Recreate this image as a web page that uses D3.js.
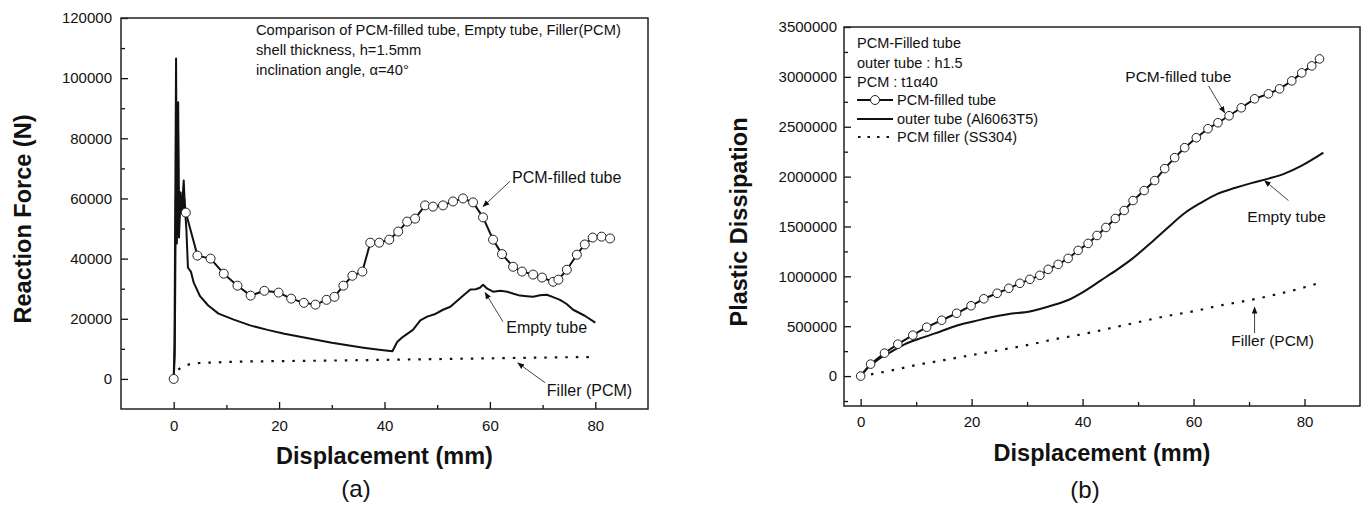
<!DOCTYPE html>
<html><head><meta charset="utf-8">
<script src="https://cdn.jsdelivr.net/npm/d3@7"></script>
<style>
body{margin:0;background:#fff}
svg{display:block}
text{font-family:"Liberation Sans",Arial,sans-serif;fill:#111}
</style>
</head><body>
<svg id="c" width="1365" height="507"></svg>
<script>
// ---------- (a) Reaction force ----------
const aPcmSpikeX = [0, 0.2, 0.4, 0.6, 0.8, 1.0, 1.2, 1.5, 1.9, 2.1, 2.3];
const aPcmSpikeY = [0, 8000, 60000, 45000, 86000, 50000, 62000, 55000, 66000, 58000, 55300];
const aPcmX = [2.3, 4.5, 7.0, 9.5, 12.1, 14.6, 17.2, 19.9, 22.3, 24.7, 26.9, 29.0, 30.5, 32.2, 33.9, 35.8, 37.3, 39.0, 40.9, 42.6, 44.3, 45.8, 47.7, 49.2, 51.1, 53.0, 54.9, 56.8, 58.7, 60.6, 62.3, 64.4, 66.1, 68.2, 69.9, 72.0, 73.0, 74.6, 76.5, 78.0, 79.5, 81.2, 82.8];
const aPcmY = [55300, 41000, 40000, 35000, 31000, 27700, 29300, 28700, 26700, 25300, 24700, 26300, 27300, 31000, 34300, 35700, 45300, 45300, 46300, 49000, 52300, 53300, 57700, 57300, 57700, 59000, 60000, 58700, 53700, 46300, 41500, 37300, 35700, 34700, 33700, 32300, 33000, 36300, 41300, 44700, 47000, 47300, 46700];
const aEmptyX = [0, 0.15, 0.45, 0.6, 0.85, 1.0, 1.3, 1.7, 2.0, 2.4, 2.7, 3.0, 3.3, 3.8, 5.0, 6.5, 8.5, 11.4, 14.5, 17.8, 21, 24, 27, 30, 33, 36, 39, 41.5, 42.4, 43.5, 45.4, 46.8, 48.1, 49.5, 51.1, 52.5, 53.8, 55.0, 56.3, 57.3, 58.1, 58.7, 59.5, 60.6, 62.0, 63.3, 64.5, 65.7, 67.0, 68.2, 69.5, 70.8, 72.0, 73.3, 74.5, 75.8, 78.0, 80.0];
const aEmptyY = [0, 12000, 106500, 48000, 92000, 47000, 62000, 55000, 60000, 50000, 37000, 36300, 35500, 32000, 27500, 24500, 21700, 19700, 17800, 16300, 15000, 14000, 13000, 12000, 11200, 10400, 9700, 9200, 12300, 14000, 16300, 19500, 20700, 21500, 23000, 24000, 26000, 27800, 29700, 29800, 30300, 31300, 30000, 29000, 29300, 29000, 28300, 27700, 27500, 27300, 27800, 28000, 27200, 26300, 25000, 23000, 21000, 18700];
const aFillerX = [0, 0.3, 0.7, 1.3, 2, 3.2, 5, 8, 11.4, 16, 22, 29.7, 36, 42, 50, 58, 66, 74, 80];
const aFillerY = [0, 1500, 2800, 3700, 4300, 5000, 5300, 5500, 5700, 5850, 5950, 6100, 6250, 6400, 6600, 6800, 7000, 7200, 7300];
const aXTicks = [0, 20, 40, 60, 80];
const aXMinor = [10, 30, 50, 70];
const aYTicks = [0, 20000, 40000, 60000, 80000, 100000, 120000];
const aYMinor = [10000, 30000, 50000, 70000, 90000, 110000];
const aHeader = ["Comparison of PCM-filled tube, Empty tube, Filler(PCM)", "shell thickness, h=1.5mm", "inclination angle, \u03B1=40\u00B0"];
const aLabels = ["PCM-filled tube", "Empty tube", "Filler (PCM)"];
const aLabelX = [64.2, 63.1, 70.8];
const aLabelY = [65000, 15200, -5700];
const aArrowFromX = [63.8, 62.5, 70.5], aArrowFromY = [65700, 19000, -1300];
const aArrowToX = [58.7, 59.1, 65.3], aArrowToY = [57300, 28700, 5300];

// ---------- (b) Plastic dissipation ----------
const bPcmX = [0, 1.8, 4.3, 6.7, 9.4, 11.9, 14.6, 17.3, 19.9, 22.2, 24.6, 26.7, 28.7, 30.5, 32.3, 33.8, 35.6, 37.4, 39.2, 41.0, 42.6, 44.2, 45.9, 47.5, 49.1, 51.1, 53.0, 54.8, 56.6, 58.4, 60.5, 62.6, 64.4, 66.4, 68.6, 71.0, 73.5, 75.5, 77.7, 79.5, 81.3, 82.7];
const bPcmY = [0, 120000, 230000, 320000, 410000, 490000, 560000, 630000, 705000, 775000, 830000, 880000, 930000, 970000, 1010000, 1070000, 1120000, 1180000, 1260000, 1330000, 1410000, 1490000, 1580000, 1660000, 1760000, 1860000, 1960000, 2080000, 2190000, 2290000, 2390000, 2480000, 2540000, 2610000, 2690000, 2780000, 2830000, 2880000, 2960000, 3040000, 3110000, 3180000];
const bEmptyX = [0, 1, 2.3, 3.5, 5.4, 8, 11.4, 14.5, 17.5, 20.5, 23.5, 26.5, 30.7, 34, 37.3, 40.3, 43.3, 46.3, 48.8, 52.4, 55.4, 58.3, 61.4, 64.4, 67.4, 70.4, 73.5, 76.4, 79.5, 83.4];
const bEmptyY = [0, 70000, 130000, 180000, 240000, 320000, 390000, 450000, 510000, 550000, 590000, 620000, 650000, 700000, 760000, 850000, 960000, 1070000, 1170000, 1340000, 1490000, 1630000, 1740000, 1830000, 1885000, 1935000, 1980000, 2030000, 2110000, 2240000];
const bFillerX = [0, 5, 10, 15, 20, 25, 30, 35, 40, 45, 50, 55, 60, 65, 70, 75, 80, 83];
const bFillerY = [0, 50000, 110000, 160000, 210000, 260000, 310000, 370000, 420000, 480000, 540000, 600000, 650000, 710000, 760000, 820000, 890000, 940000];
const bXTicks = [0, 20, 40, 60, 80];
const bXMinor = [10, 30, 50, 70];
const bYTicks = [0, 500000, 1000000, 1500000, 2000000, 2500000, 3000000, 3500000];
const bYMinor = [-250000, 250000, 750000, 1250000, 1750000, 2250000, 2750000, 3250000];
const bHeader = ["PCM-Filled tube", "outer tube : h1.5", "PCM : t1\u03B140"];
const bLegend = ["PCM-filled tube", "outer tube (Al6063T5)", "PCM filler (SS304)"];
const bLabels = ["PCM-filled tube", "Empty tube", "Filler (PCM)"];
const bLabelX = [47.7, 69.7, 66.8];
const bLabelY = [2945000, 1545000, 300000];
const bArrowFromX = [62.7, 77.1, 71.0], bArrowFromY = [2910000, 1760000, 430000];
const bArrowToX = [65.6, 72.8, 71.0], bArrowToY = [2640000, 1960000, 690000];

const svg = d3.select('#c');
const defs = svg.append('defs');
defs.append('marker').attr('id', 'ah').attr('viewBox', '0 0 10 10')
  .attr('refX', 9).attr('refY', 5).attr('markerWidth', 7).attr('markerHeight', 7)
  .attr('markerUnits', 'userSpaceOnUse').attr('orient', 'auto')
  .append('path').attr('d', 'M0,1 L10,5 L0,9 Z').attr('fill', '#111');

const zip = (xs, ys) => xs.map((x, i) => [x, ys[i]]);

function panel(o) {
  const g = svg.append('g');
  const x = d3.scaleLinear().domain(o.xDom).range([o.l, o.r]);
  const y = d3.scaleLinear().domain(o.yDom).range([o.b, o.t]);
  const line = d3.line().x(d => x(d[0])).y(d => y(d[1]));
  const smooth = d3.line().x(d => x(d[0])).y(d => y(d[1])).curve(o.smooth ? d3.curveMonotoneX : d3.curveLinear);

  const ax = g.append('g').attr('transform', `translate(0,${o.b})`)
    .call(d3.axisBottom(x).tickValues(o.xT).tickSize(-7).tickSizeOuter(0).tickPadding(o.xPad).tickFormat(d3.format('d')));
  const axm = g.append('g').attr('transform', `translate(0,${o.b})`)
    .call(d3.axisBottom(x).tickValues(o.xM).tickSize(-4).tickSizeOuter(0).tickFormat(''));
  const ay = g.append('g').attr('transform', `translate(${o.l},0)`)
    .call(d3.axisLeft(y).tickValues(o.yT).tickSize(-7).tickSizeOuter(0).tickPadding(o.yPad).tickFormat(d3.format('d')));
  const aym = g.append('g').attr('transform', `translate(${o.l},0)`)
    .call(d3.axisLeft(y).tickValues(o.yM).tickSize(-4).tickSizeOuter(0).tickFormat(''));
  [ax, axm, ay, aym].forEach(a => {
    a.select('.domain').remove();
    a.selectAll('line').attr('stroke', '#111').attr('stroke-width', 1.3);
    a.selectAll('text').attr('font-family', '"Liberation Sans",Arial,sans-serif').attr('font-size', 15).attr('fill', '#111');
  });
  g.append('rect').attr('x', o.l).attr('y', o.t).attr('width', o.r - o.l).attr('height', o.b - o.t)
    .attr('fill', 'none').attr('stroke', '#222').attr('stroke-width', 1.5);

  g.append('path').datum(o.filler).attr('d', smooth).attr('fill', 'none').attr('stroke', '#111')
    .attr('stroke-width', 2.2).attr('stroke-dasharray', '2.5,8');
  g.append('path').datum(o.empty).attr('d', smooth).attr('fill', 'none').attr('stroke', '#111')
    .attr('stroke-width', 2).attr('stroke-linejoin', 'round');
  g.append('path').datum(o.pcm).attr('d', line).attr('fill', 'none').attr('stroke', '#111')
    .attr('stroke-width', 2).attr('stroke-linejoin', 'round');
  g.selectAll('circle.m').data(o.pcmMarks).join('circle').attr('class', 'm')
    .attr('cx', d => x(d[0])).attr('cy', d => y(d[1])).attr('r', o.mr)
    .attr('fill', '#fff').attr('stroke', '#222').attr('stroke-width', 1);

  g.append('text').attr('x', (o.l + o.r) / 2).attr('y', o.xTitleY).attr('text-anchor', 'middle')
    .attr('font-weight', 'bold').attr('font-size', 23.5).text('Displacement (mm)');
  g.append('text').attr('transform', `translate(${o.yTitleX},${o.yTitleC}) rotate(-90)`).attr('text-anchor', 'middle')
    .attr('font-weight', 'bold').attr('font-size', 23.5).text(o.yTitle);
  g.append('text').attr('x', o.subX).attr('y', o.subY).attr('text-anchor', 'middle')
    .attr('font-family', 'Lato, sans-serif').attr('font-size', 24).text(o.sub);

  o.labels.forEach((t, i) => {
    g.append('text').attr('x', x(o.lx[i])).attr('y', y(o.ly[i])).attr('font-size', o.labFs).text(t);
    g.append('line').attr('x1', x(o.afx[i])).attr('y1', y(o.afy[i])).attr('x2', x(o.atx[i])).attr('y2', y(o.aty[i]))
      .attr('stroke', '#444').attr('stroke-width', 1).attr('marker-end', 'url(#ah)');
  });
  return {g, x, y};
}

const A = panel({
  l: 121, t: 18, r: 648, b: 409, xDom: [-10, 90], yDom: [-10000, 120000],
  xT: aXTicks, xM: aXMinor, yT: aYTicks, yM: aYMinor, xPad: 11.3, yPad: 9, smooth: false, mr: 4.5,
  filler: zip(aFillerX, aFillerY), empty: zip(aEmptyX, aEmptyY),
  pcm: zip(aPcmSpikeX, aPcmSpikeY).concat(zip(aPcmX, aPcmY)),
  pcmMarks: [[aPcmSpikeX[0], aPcmSpikeY[0]]].concat(zip(aPcmX, aPcmY)),
  xTitleY: 464, yTitleX: 31, yTitleC: 219, yTitle: 'Reaction Force (N)',
  sub: '(a)', subX: 356, subY: 497,
  labels: aLabels, lx: aLabelX, ly: aLabelY, afx: aArrowFromX, afy: aArrowFromY, atx: aArrowToX, aty: aArrowToY, labFs: 16
});
aHeader.forEach((t, i) => {
  A.g.append('text').attr('x', 256).attr('y', 35 + i * 20).attr('font-size', 14.7).text(t);
});

const B = panel({
  l: 844, t: 27, r: 1360, b: 406, xDom: [-3, 90], yDom: [-300000, 3500000],
  xT: bXTicks, xM: bXMinor, yT: bYTicks, yM: bYMinor, xPad: 10.3, yPad: 7, smooth: true, mr: 4.3,
  filler: zip(bFillerX, bFillerY), empty: zip(bEmptyX, bEmptyY),
  pcm: zip(bPcmX, bPcmY), pcmMarks: zip(bPcmX, bPcmY),
  xTitleY: 461, yTitleX: 747, yTitleC: 222, yTitle: 'Plastic Dissipation',
  sub: '(b)', subX: 1085, subY: 498,
  labels: bLabels, lx: bLabelX, ly: bLabelY, afx: bArrowFromX, afy: bArrowFromY, atx: bArrowToX, aty: bArrowToY, labFs: 15.5
});
const hdr = [48, 68, 87];
bHeader.forEach((t, i) => {
  B.g.append('text').attr('x', 857).attr('y', hdr[i]).attr('font-size', 14.5).text(t);
});
const legY = [105, 124, 142];
bLegend.forEach((t, i) => {
  const cy = legY[i] - 5;
  const ln = B.g.append('line').attr('x1', 857).attr('x2', 893).attr('y1', cy).attr('y2', cy)
    .attr('stroke', '#111').attr('stroke-width', 2);
  if (i === 2) ln.attr('stroke-dasharray', '2.5,7').attr('x1', 858);
  if (i === 0) B.g.append('circle').attr('cx', 875).attr('cy', cy).attr('r', 4.5)
    .attr('fill', '#fff').attr('stroke', '#222').attr('stroke-width', 1);
  B.g.append('text').attr('x', 897).attr('y', legY[i]).attr('font-size', 14.5).text(t);
});
</script>
</body></html>
